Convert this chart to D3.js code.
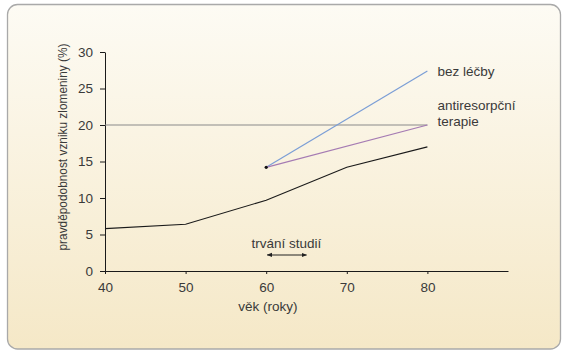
<!DOCTYPE html>
<html>
<head>
<meta charset="utf-8">
<script src="https://cdn.jsdelivr.net/npm/d3@7"></script>
<style>
  body { margin: 0; background: #fff; }
  svg text { font-family: "Liberation Sans", Arial, sans-serif; fill: #3a3a3a; }
</style>
</head>
<body>
<div id="chart"></div>
<script>
// data
const ages = [40, 50, 60, 70, 80];
const baseRisk = [5.8, 6.4, 9.7, 14.2, 17.0];
const noTreatment = [{ age: 60, v: 14.2 }, { age: 80, v: 27.4 }];
const therapy = [{ age: 60, v: 14.2 }, { age: 80, v: 20.0 }];
const refLevel = 20;
const xTicks = [40, 50, 60, 70, 80];
const yTicks = [0, 5, 10, 15, 20, 25, 30];
const studySpan = [60, 65];

const width = 566, height = 354;
const margin = { top: 52, left: 105 };
const innerW = 403, innerH = 219;

const svg = d3.select("#chart").append("svg")
  .attr("width", width)
  .attr("height", height);

// panel background
const grad = svg.append("defs").append("linearGradient")
  .attr("id", "bg").attr("x1", 0).attr("y1", 0).attr("x2", 0).attr("y2", 1);
grad.append("stop").attr("offset", "0%").attr("stop-color", "#fdfbf4");
grad.append("stop").attr("offset", "100%").attr("stop-color", "#f5e8c7");

svg.append("rect")
  .attr("x", 7.5).attr("y", 4.5)
  .attr("width", 553).attr("height", 344.5)
  .attr("rx", 10)
  .attr("fill", "url(#bg)")
  .attr("stroke", "#a9a9a9")
  .attr("stroke-width", 1.3);

const x = d3.scaleLinear().domain([40, 90]).range([0, innerW]);
const y = d3.scaleLinear().domain([0, 30]).range([innerH, 0]);

const chart = svg.append("g")
  .attr("transform", `translate(${margin.left},${margin.top})`);

// axes
const xAxis = d3.axisBottom(x).tickValues(xTicks).tickSize(3).tickPadding(8).tickSizeOuter(0);
const yAxis = d3.axisLeft(y).tickValues(yTicks).tickSize(5).tickPadding(7).tickSizeOuter(0);

const xAxisG = chart.append("g")
  .attr("transform", `translate(0,${innerH})`)
  .call(xAxis);
const yAxisG = chart.append("g").call(yAxis);

[xAxisG, yAxisG].forEach(g => {
  g.selectAll("path, line").attr("stroke", "#1a1a1a").attr("stroke-width", 1);
  g.selectAll("text")
    .style("font-size", "13.5px")
    .style("font-family", "'Liberation Sans', Arial, sans-serif")
    .attr("fill", "#444");
});

// reference line at 20 %
chart.append("line")
  .attr("x1", x(40)).attr("x2", x(80))
  .attr("y1", y(refLevel)).attr("y2", y(refLevel))
  .attr("stroke", "#8a8a8a")
  .attr("stroke-width", 1.1);

const line = d3.line().x(d => x(d.age)).y(d => y(d.v));

chart.append("path")
  .datum(ages.map((a, i) => ({ age: a, v: baseRisk[i] })))
  .attr("d", line)
  .attr("fill", "none")
  .attr("stroke", "#1a1a1a")
  .attr("stroke-width", 1.1);

chart.append("path")
  .datum(noTreatment)
  .attr("d", line)
  .attr("fill", "none")
  .attr("stroke", "#7b9ed6")
  .attr("stroke-width", 1.2);

chart.append("path")
  .datum(therapy)
  .attr("d", line)
  .attr("fill", "none")
  .attr("stroke", "#a57bb3")
  .attr("stroke-width", 1.2);

chart.append("circle")
  .attr("cx", x(noTreatment[0].age))
  .attr("cy", y(noTreatment[0].v))
  .attr("r", 1.6)
  .attr("fill", "#111");

// line labels
const labels = [
  { t: "bez léčby", v: 27.4, dy: 5 },
  { t: "antiresorpční", v: 20, dy: -15 },
  { t: "terapie", v: 20, dy: 1 }
];
chart.selectAll(".lbl")
  .data(labels)
  .join("text")
  .attr("class", "lbl")
  .attr("x", x(80) + 10)
  .attr("y", d => y(d.v) + d.dy)
  .style("font-size", "13.5px")
  .text(d => d.t);

// study duration arrow
const defs = svg.select("defs");
defs.append("marker")
  .attr("id", "ah")
  .attr("viewBox", "0 0 10 10")
  .attr("refX", 9).attr("refY", 5)
  .attr("markerWidth", 5).attr("markerHeight", 5)
  .attr("orient", "auto-start-reverse")
  .append("path")
  .attr("d", "M0,1L10,5L0,9Z")
  .attr("fill", "#222");

chart.append("line")
  .attr("x1", x(studySpan[0]) + 1).attr("x2", x(studySpan[1]))
  .attr("y1", y(2.2)).attr("y2", y(2.2))
  .attr("stroke", "#222")
  .attr("stroke-width", 1.1)
  .attr("marker-start", "url(#ah)")
  .attr("marker-end", "url(#ah)");

chart.append("text")
  .attr("x", x((studySpan[0] + studySpan[1]) / 2))
  .attr("y", y(3.15))
  .attr("text-anchor", "middle")
  .style("font-size", "13.5px")
  .text("trvání studií");

// axis titles
svg.append("text")
  .attr("x", 268)
  .attr("y", 311)
  .attr("text-anchor", "middle")
  .style("font-size", "13.5px")
  .text("věk (roky)");

svg.append("text")
  .attr("transform", "rotate(-90)")
  .attr("x", -147)
  .attr("y", 67)
  .attr("text-anchor", "middle")
  .style("font-size", "13px")
  .attr("textLength", 207)
  .attr("lengthAdjust", "spacingAndGlyphs")
  .text("pravděpodobnost vzniku zlomeniny (%)");
</script>
</body>
</html>
